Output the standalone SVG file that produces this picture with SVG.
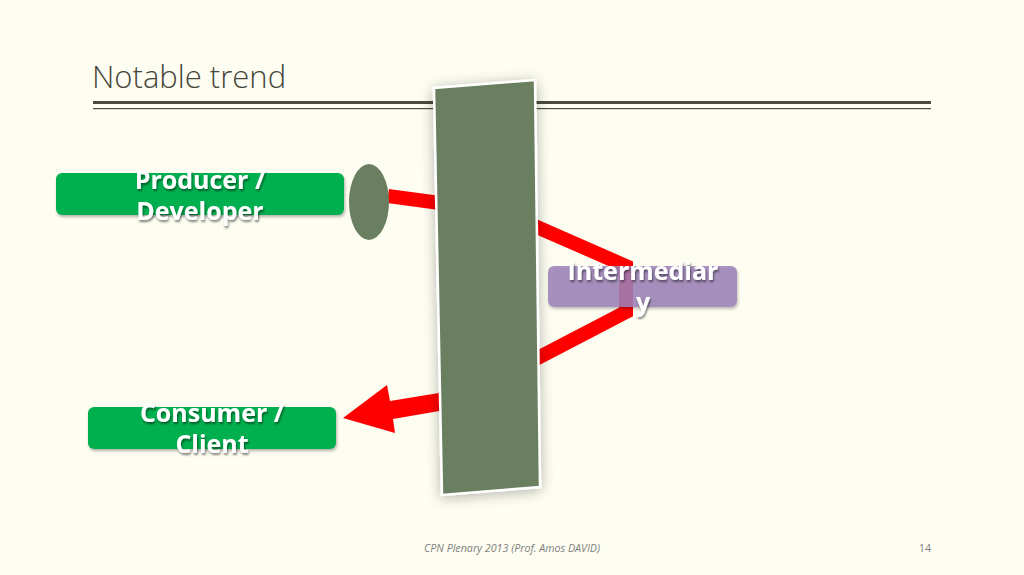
<svg xmlns="http://www.w3.org/2000/svg" width="1024" height="575" viewBox="0 0 1024 575">
<defs>
<filter id="shadow" x="-30%" y="-10%" width="160%" height="120%">
<feGaussianBlur in="SourceAlpha" stdDeviation="7"/>
<feOffset dx="0" dy="2" result="b"/>
<feComponentTransfer><feFuncA type="linear" slope="0.3"/></feComponentTransfer>
<feMerge><feMergeNode/><feMergeNode in="SourceGraphic"/></feMerge>
</filter>
<filter id="boxshadow" x="-5%" y="-20%" width="110%" height="150%">
<feGaussianBlur in="SourceAlpha" stdDeviation="1.5"/>
<feOffset dx="1" dy="2"/>
<feComponentTransfer><feFuncA type="linear" slope="0.3"/></feComponentTransfer>
<feMerge><feMergeNode/><feMergeNode in="SourceGraphic"/></feMerge>
</filter>
<filter id="textshadow" x="-10%" y="-30%" width="120%" height="160%">
<feGaussianBlur in="SourceAlpha" stdDeviation="1"/>
<feOffset dx="1" dy="1.5"/>
<feComponentTransfer><feFuncA type="linear" slope="0.5"/></feComponentTransfer>
<feMerge><feMergeNode/><feMergeNode in="SourceGraphic"/></feMerge>
</filter>
</defs>
<style>
.title{font-family:"Open Sans","Liberation Sans",sans-serif;font-weight:300;font-size:31px;fill:#46463c}
.lbl{font-family:"Open Sans","Liberation Sans",sans-serif;font-weight:700;font-size:25px;fill:#ffffff;text-anchor:middle}
.foot{font-family:"Open Sans","Liberation Sans",sans-serif;font-size:10.7px;fill:#7f7f7f}
.red{fill:none;stroke:#ff0000;stroke-width:14}
.gbox{fill:#00b050}
</style>
<rect width="1024" height="575" fill="#fdfdf1"/>
<text class="title" x="92" y="88">Notable trend</text>
<rect x="93" y="101" width="838" height="3" fill="#4a4a3e"/>
<rect x="93" y="108" width="838" height="1.2" fill="#4a4a3e"/>

<g id="connectors">
<path class="red" d="M388,196 L440,203"/>
<path class="red" d="M530,224 L626,266 L626,312 L530,362"/>
<polygon points="343,418 387,385 390,401 445,392 445,410 393,419 395,433" fill="#ff0000"/>
</g>

<g id="barrier">
<polygon points="434,88 535,80 540,487 442,495" fill="#6a7f60" stroke="#ffffff" stroke-width="2.5" filter="url(#shadow)"/>
</g>

<g id="gate">
<ellipse cx="369" cy="202" rx="20" ry="38" fill="#6a7f60"/>
</g>

<g id="producer">
<rect class="gbox" x="56" y="173" width="288" height="42" rx="6" filter="url(#boxshadow)"/>
<text class="lbl" x="200" y="189" filter="url(#textshadow)">Producer /</text>
<text class="lbl" x="200" y="220" filter="url(#textshadow)">Developer</text>
</g>

<g id="intermediary">
<rect x="548" y="266" width="189" height="41" rx="6" fill="#9d82ba" fill-opacity="0.85" filter="url(#boxshadow)"/>
<text class="lbl" x="643" y="280" filter="url(#textshadow)">Intermediar</text>
<text class="lbl" x="643" y="311" filter="url(#textshadow)">y</text>
</g>

<g id="consumer">
<rect class="gbox" x="88" y="407" width="248" height="42" rx="6" filter="url(#boxshadow)"/>
<text class="lbl" x="212" y="422" filter="url(#textshadow)">Consumer /</text>
<text class="lbl" x="212" y="453" filter="url(#textshadow)">Client</text>
</g>

<text class="foot" x="424" y="552" font-style="italic">CPN Plenary 2013 (Prof. Amos DAVID)</text>
<text class="foot" x="931" y="552" font-size="13.5" text-anchor="end">14</text>
</svg>
